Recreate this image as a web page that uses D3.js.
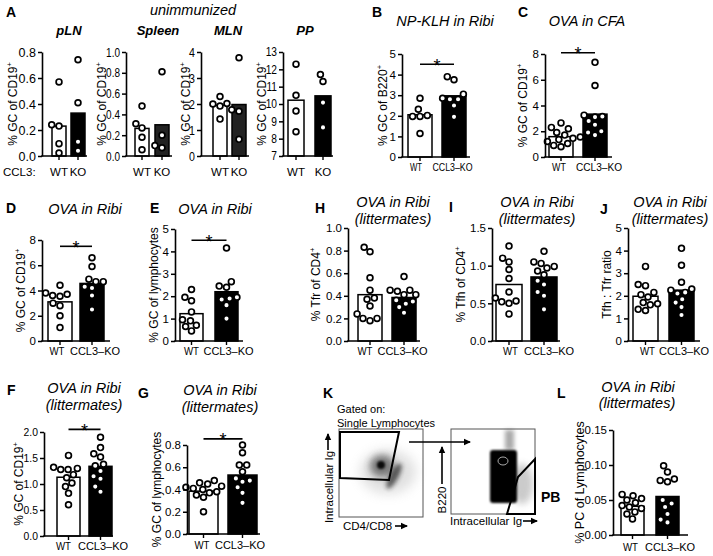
<!DOCTYPE html>
<html><head><meta charset="utf-8">
<script src="https://cdn.jsdelivr.net/npm/d3@7"></script>
<style>
body{margin:0;background:#fff}
svg{display:block}
text{font-family:"Liberation Sans",Arial,Helvetica,sans-serif;fill:#000}
</style></head>
<body><svg id="c" width="713" height="556"></svg>
<script>
// ---------------- DATA ----------------
const groupsA = ["WT", "KO"];
const groups = ["WT", "CCL3–KO"];

const pLN_WT = [0.57, 0.24, 0.23, 0.095, 0.023];
const pLN_KO = [0.74, 0.41, 0.11, 0.04];
const pLN_bar = [0.23, 0.33];
const spleen_WT = [0.48, 0.31, 0.27, 0.18, 0.06];
const spleen_KO = [0.81, 0.20, 0.10, 0.08];
const spleen_bar = [0.265, 0.30];
const MLN_WT = [2.29, 2.02, 2.0, 1.92, 1.42];
const MLN_KO = [3.78, 1.78, 1.72, 0.64];
const MLN_bar = [1.95, 1.98];
const PP_WT = [12.3, 10.5, 9.6, 8.4];
const PP_KO = [11.7, 11.3, 10.08, 8.65];
const PP_bar = [10.22, 10.47];

const B_WT = [2.85, 2.32, 2.02, 1.97, 1.97, 1.14];
const B_KO = [3.9, 3.75, 3.05, 2.85, 2.8, 2.8, 2.5, 1.95];
const B_bar = [2.05, 2.97];
const C_WT = [2.65, 2.3, 2.2, 1.9, 1.7, 1.55, 1.45, 1.35, 1.2, 1.05, 0.9, 0.8];
const C_KO = [7.35, 5.55, 3.25, 3.15, 3.1, 2.8, 2.5, 2.0, 1.9, 1.7];
const C_bar = [1.58, 3.33];
const D_WT = [4.42, 3.8, 3.7, 3.6, 3.55, 3.0, 2.8, 2.0, 1.06];
const D_KO = [6.6, 5.9, 4.9, 4.7, 4.7, 4.3, 4.2, 3.6, 2.5];
const D_bar = [3.1, 4.56];
const E_WT = [2.3, 1.95, 1.8, 1.3, 0.95, 0.9, 0.7, 0.65, 0.45];
const E_KO = [4.15, 2.65, 2.45, 2.4, 1.95, 1.9, 1.85, 1.6, 1.0];
const E_bar = [1.22, 2.2];
const H_WT = [0.83, 0.79, 0.56, 0.45, 0.38, 0.37, 0.31, 0.24, 0.2, 0.2, 0.18];
const H_KO = [0.57, 0.45, 0.45, 0.44, 0.41, 0.41, 0.36, 0.35, 0.33, 0.3, 0.25];
const H_bar = [0.41, 0.385];
const I_WT = [1.26, 1.1, 1.05, 0.95, 0.83, 0.65, 0.57, 0.53, 0.52, 0.5, 0.36];
const I_KO = [1.19, 1.05, 1.03, 0.99, 0.97, 0.93, 0.88, 0.8, 0.75, 0.65, 0.6, 0.42];
const I_bar = [0.75, 0.85];
const J_WT = [3.3, 2.5, 2.45, 2.15, 2.05, 1.95, 1.7, 1.65, 1.6, 1.4, 1.35];
const J_KO = [4.1, 3.35, 2.6, 2.3, 2.25, 2.15, 2.1, 1.85, 1.7, 1.5, 1.15];
const J_bar = [1.98, 2.25];
const F_WT = [1.55, 1.32, 1.3, 1.28, 1.28, 1.18, 1.12, 1.02, 0.95, 0.82, 0.6];
const F_KO = [1.9, 1.7, 1.58, 1.52, 1.38, 1.35, 1.25, 1.15, 1.1, 0.95, 0.85];
const F_bar = [1.13, 1.34];
const G_WT = [0.48, 0.46, 0.45, 0.43, 0.42, 0.41, 0.4, 0.38, 0.37, 0.35, 0.33, 0.2];
const G_KO = [0.8, 0.73, 0.62, 0.62, 0.56, 0.5, 0.48, 0.47, 0.42, 0.37, 0.28];
const G_bar = [0.385, 0.53];
const L_WT = [0.058, 0.056, 0.052, 0.05, 0.046, 0.042, 0.04, 0.038, 0.033, 0.03, 0.023];
const L_KO = [0.099, 0.09, 0.08, 0.078, 0.076, 0.05, 0.045, 0.04, 0.03, 0.022, 0.018];
const L_bar = [0.041, 0.055];

const ticks02 = [0, 0.2, 0.4, 0.6, 0.8];
const ticks10 = [0, 0.2, 0.4, 0.6, 0.8, 1.0];
const ticks4 = [0, 1, 2, 3, 4];
const ticks5 = [0, 1, 2, 3, 4, 5];
const ticksPP = [7, 8, 9, 10, 11, 12, 13];
const ticks8 = [0, 2, 4, 6, 8];
const ticks15 = [0, 0.5, 1.0, 1.5];
const ticks20 = [0, 0.5, 1.0, 1.5, 2.0];
const ticksL = [0, 0.05, 0.10, 0.15];

const labCD19 = ["% GC of CD19", "+"];

// ---------------- LAYOUT ----------------
const panels = [
  {wt:pLN_WT, ko:pLN_KO, bar:pLN_bar, cats:groupsA, dom:[0,0.8], ticks:ticks02, fmt:".1f", ax:42, end:87, l:52, r:85, bw:14, top:52, bot:156, lab:labCD19, labx:13, tfs:12.5, tsq:1, lfs:12, xfs:11.5, xly:176, xo:[0,0]},
  {wt:spleen_WT, ko:spleen_KO, bar:spleen_bar, cats:groupsA, dom:[0,1], ticks:ticks10, fmt:".1f", ax:126, end:172, l:135, r:169, bw:14, top:52, bot:156, lab:labCD19, labx:102, tfs:12.5, tsq:0.8, lfs:12, xfs:11.5, xly:176, xo:[0,0], ko_fill:"#222"},
  {wt:MLN_WT, ko:MLN_KO, bar:MLN_bar, cats:groupsA, dom:[0,4], ticks:ticks4, fmt:"d", ax:201, end:249, l:213, r:246, bw:14, top:52, bot:156, lab:labCD19, labx:186, tfs:12.5, tsq:0.85, lfs:12, xfs:11.5, xly:176, xo:[0,0], ko_fill:"#222"},
  {wt:PP_WT, ko:PP_KO, bar:PP_bar, cats:groupsA, dom:[7,13], ticks:ticksPP, fmt:"d", ax:283, end:333, l:288, r:331, bw:16, top:52, bot:156, lab:labCD19, labx:262, tfs:12, tsq:0.85, lfs:12, xfs:11.5, xly:176, xo:[0,0]},
  {wt:B_WT, ko:B_KO, bar:B_bar, cats:groups, dom:[0,5], ticks:ticks5, fmt:"d", ax:402, end:470, l:408, r:466, bw:24, top:54, bot:157, lab:["% GC of B220","+"], labx:383, tfs:11.5, tsq:1, lfs:12, xfs:11, xly:171, xsq:0.8, xo:[-4,-1.5], sig:4.5},
  {wt:C_WT, ko:C_KO, bar:C_bar, cats:groups, dom:[0,8], ticks:ticks8, fmt:"d", ax:545, end:612, l:549, r:607, bw:24, top:54, bot:157, lab:labCD19, labx:523, tfs:11.5, tsq:1, lfs:12, xfs:11, xly:171, xsq:0.92, xo:[-2,4], sig:8.1},
  {wt:D_WT, ko:D_KO, bar:D_bar, cats:groups, dom:[0,8], ticks:ticks8, fmt:"d", ax:42, end:110, l:48, r:104, bw:24, top:240, bot:341, lab:labCD19, labx:21, tfs:11.5, tsq:1, lfs:12, xfs:11, xly:355, xo:[-3,3], sig:7.5},
  {wt:E_WT, ko:E_KO, bar:E_bar, cats:groups, dom:[0,5], ticks:ticks5, fmt:"d", ax:175, end:243, l:180, r:238, bw:23, top:229, bot:341, lab:["% GC of lymphocytes",""], labx:154, tfs:11.5, tsq:1, lfs:12, xfs:11, xly:355, xo:[0,2], sig:4.5},
  {wt:H_WT, ko:H_KO, bar:H_bar, cats:groups, dom:[0,1], ticks:ticks10, fmt:".1f", ax:348, end:420, l:358, r:416, bw:24, top:228, bot:341, lab:["% Tfr of CD4","+"], labx:316, tfs:11.5, tsq:1, lfs:12, xfs:11, xly:355, xo:[-5,-1.5]},
  {wt:I_WT, ko:I_KO, bar:I_bar, cats:groups, dom:[0,1.5], ticks:ticks15, fmt:".1f", ax:492, end:560, l:496, r:557, bw:26, top:228, bot:341, lab:["% Tfh of CD4","+"], labx:461, tfs:11.5, tsq:1, lfs:12, xfs:11, xly:355, xo:[1.5,5]},
  {wt:J_WT, ko:J_KO, bar:J_bar, cats:groups, dom:[0,5], ticks:ticks5, fmt:"d", ax:628, end:700, l:633, r:694, bw:25, top:228, bot:341, lab:["Tfh : Tfr ratio",""], labx:607, tfs:11.5, tsq:1, lfs:12, xfs:11, xly:355, xo:[2,2.5]},
  {wt:F_WT, ko:F_KO, bar:F_bar, cats:groups, dom:[0,2], ticks:ticks20, fmt:".1f", ax:44, end:113, l:57, r:112, bw:23, top:432, bot:536, lab:labCD19, labx:19, tfs:11.5, tsq:0.9, lfs:12, xfs:11, xly:550, xo:[-5,2.5], sig:2.05},
  {wt:G_WT, ko:G_KO, bar:G_bar, cats:groups, dom:[0,0.8], ticks:ticks02, fmt:".1f", ax:187, end:260, l:189, r:257, bw:29, top:445, bot:534, lab:["% GC of lymphocytes",""], labx:157, tfs:11.5, tsq:1, lfs:12, xfs:11, xly:549, xo:[-1.5,-2.5], sig:0.855},
  {wt:L_WT, ko:L_KO, bar:L_bar, cats:groups, dom:[0,0.15], ticks:ticksL, fmt:".2f", ax:613, end:688, l:621, r:679, bw:23, top:430, bot:535, lab:["% PC of Lymphocytes",""], labx:580, tfs:11.5, tsq:1, lfs:12.5, xfs:11, xly:551, xo:[-2,2.5]}
];

const texts = [
  {t:"A", x:6, y:17, fs:14, w:"bold"},
  {t:"unimmunized", x:193, y:15, fs:14.5, st:"italic", a:"middle"},
  {t:"pLN", x:69, y:35, fs:13, w:"bold", st:"italic", a:"middle"},
  {t:"Spleen", x:158, y:35, fs:13, w:"bold", st:"italic", a:"middle"},
  {t:"MLN", x:228, y:35, fs:13, w:"bold", st:"italic", a:"middle"},
  {t:"PP", x:305, y:35, fs:13, w:"bold", st:"italic", a:"middle"},
  {t:"CCL3:", x:3, y:176, fs:11.5},
  {t:"B", x:372, y:17, fs:14, w:"bold"},
  {t:"NP-KLH in Ribi", x:445, y:26, fs:14.5, st:"italic", a:"middle"},
  {t:"C", x:518, y:17, fs:14, w:"bold"},
  {t:"OVA in CFA", x:587, y:26, fs:14.5, st:"italic", a:"middle"},
  {t:"D", x:6, y:213, fs:14, w:"bold"},
  {t:"OVA in Ribi", x:85, y:214, fs:14.5, st:"italic", a:"middle"},
  {t:"E", x:150, y:213, fs:14, w:"bold"},
  {t:"OVA in Ribi", x:215, y:214, fs:14.5, st:"italic", a:"middle"},
  {t:"H", x:315, y:213, fs:14, w:"bold"},
  {t:"OVA in Ribi", x:393, y:207, fs:14.5, st:"italic", a:"middle"},
  {t:"(littermates)", x:393, y:224, fs:14.5, st:"italic", a:"middle"},
  {t:"I", x:449, y:212, fs:14, w:"bold"},
  {t:"OVA in Ribi", x:537, y:207, fs:14.5, st:"italic", a:"middle"},
  {t:"(littermates)", x:537, y:224, fs:14.5, st:"italic", a:"middle"},
  {t:"J", x:600, y:214, fs:14, w:"bold"},
  {t:"OVA in Ribi", x:670, y:207, fs:14.5, st:"italic", a:"middle"},
  {t:"(littermates)", x:670, y:224, fs:14.5, st:"italic", a:"middle"},
  {t:"F", x:7, y:395, fs:14, w:"bold"},
  {t:"OVA in Ribi", x:84, y:393, fs:14.5, st:"italic", a:"middle"},
  {t:"(littermates)", x:84, y:410, fs:14.5, st:"italic", a:"middle"},
  {t:"G", x:138, y:398, fs:14, w:"bold"},
  {t:"OVA in Ribi", x:220, y:395, fs:14.5, st:"italic", a:"middle"},
  {t:"(littermates)", x:220, y:412, fs:14.5, st:"italic", a:"middle"},
  {t:"K", x:323, y:398, fs:14, w:"bold"},
  {t:"L", x:557, y:398, fs:14, w:"bold"},
  {t:"OVA in Ribi", x:638, y:392, fs:14.5, st:"italic", a:"middle"},
  {t:"(littermates)", x:637, y:408, fs:14.5, st:"italic", a:"middle"},
  {t:"Gated on:", x:337, y:413, fs:11},
  {t:"Single Lymphocytes", x:337, y:427, fs:11},
  {t:"CD4/CD8", x:343, y:530, fs:11.5},
  {t:"Intracellular Ig", x:450, y:525, fs:11.5},
  {t:"PB", x:541, y:502, fs:14, w:"bold"}
];

// ---------------- DRAW ----------------
const svg = d3.select("#c");
const FONT = '"Liberation Sans", Arial, Helvetica, sans-serif';

function swarm(ys, D) {
  const idx = ys.map((v, i) => i).sort((a, b) => ys[b] - ys[a]);
  const xs = new Array(ys.length).fill(0);
  const placed = [];
  for (const i of idx) {
    const iv = [];
    for (const j of placed) {
      const dy = Math.abs(ys[j] - ys[i]);
      if (dy < D) { const w = Math.sqrt(D * D - dy * dy); iv.push([xs[j] - w, xs[j] + w]); }
    }
    const cands = [0];
    iv.forEach(([a, b]) => cands.push(a, b));
    cands.sort((a, b) => Math.abs(a) - Math.abs(b));
    let c0 = 0;
    for (const c of cands) {
      if (iv.every(([a, b]) => c <= a + 1e-6 || c >= b - 1e-6)) { c0 = c; break; }
    }
    xs[i] = c0; placed.push(i);
  }
  return xs;
}

function drawPanel(p) {
  const g = svg.append("g");
  const y = d3.scaleLinear().domain(p.dom).range([p.bot, p.top]);
  const W = p.r - p.l;
  const x = d3.scaleBand().domain(p.cats).range([p.l, p.r])
    .paddingInner((W - 2 * p.bw) / (W - p.bw)).paddingOuter(0);
  const bw = x.bandwidth();

  g.selectAll("rect.bar").data(p.cats).join("rect").attr("class", "bar")
    .attr("x", d => x(d)).attr("width", bw)
    .attr("y", (d, i) => y(p.bar[i])).attr("height", (d, i) => p.bot - y(p.bar[i]))
    .attr("fill", (d, i) => i === 0 ? "#fff" : (p.ko_fill || "#000"))
    .attr("stroke", "#000").attr("stroke-width", 1.5);

  [p.wt, p.ko].forEach((vals, i) => {
    const cx = x(p.cats[i]) + bw / 2;
    const ys = vals.map(v => y(v));
    const off = swarm(ys, 7.4);
    g.append("g").selectAll("circle").data(vals).join("circle")
      .attr("cx", (d, j) => cx + off[j]).attr("cy", d => y(d)).attr("r", 2.9)
      .attr("fill", "#fff").attr("stroke", "#000").attr("stroke-width", 1.7);
  });

  const ya = d3.axisLeft(y).tickValues(p.ticks).tickFormat(d3.format(p.fmt))
    .tickSize(4).tickSizeOuter(0).tickPadding(2);
  const yg = g.append("g").attr("transform", `translate(${p.ax},0)`).call(ya)
    .attr("font-family", FONT).attr("font-size", p.tfs);
  yg.select(".domain").attr("stroke-width", 1.6);
  yg.selectAll(".tick line").attr("stroke-width", 1.5);
  yg.selectAll(".tick text").attr("fill", "#000")
    .attr("x", -6 / p.tsq).attr("transform", `scale(${p.tsq},1)`);

  g.append("line").attr("x1", p.ax - 0.8).attr("x2", p.end).attr("y1", p.bot).attr("y2", p.bot)
    .attr("stroke", "#000").attr("stroke-width", 1.6);
  g.selectAll("line.xt").data(p.cats).join("line").attr("class", "xt")
    .attr("x1", d => x(d) + bw / 2).attr("x2", d => x(d) + bw / 2)
    .attr("y1", p.bot).attr("y2", p.bot + 4).attr("stroke", "#000").attr("stroke-width", 1.4);
  const sq = p.xsq || 1;
  g.selectAll("text.xl").data(p.cats).join("text").attr("class", "xl")
    .attr("transform", (d, i) => `translate(${x(d) + bw / 2 + p.xo[i]},${p.xly}) scale(${sq * (i === 0 && p.cats[1] !== "KO" ? 0.88 : 1)},1)`)
    .attr("text-anchor", "middle").attr("font-size", p.xfs).text(d => d);

  const lt = g.append("text")
    .attr("transform", `translate(${p.labx},${(p.top + p.bot) / 2}) rotate(-90)`)
    .attr("text-anchor", "middle").attr("dy", "0.35em").attr("font-size", p.lfs);
  lt.append("tspan").text(p.lab[0]);
  if (p.lab[1]) lt.append("tspan").attr("font-size", p.lfs * 0.62).attr("dy", -p.lfs * 0.42).text(p.lab[1]);

  if (p.sig != null) {
    const ys = y(p.sig);
    const x1 = x(p.cats[0]) + bw / 2, x2 = x(p.cats[1]) + bw / 2;
    g.append("line").attr("x1", x1).attr("x2", x2).attr("y1", ys).attr("y2", ys)
      .attr("stroke", "#000").attr("stroke-width", 1.6);
    g.append("text").attr("x", (x1 + x2) / 2).attr("y", ys + 7.5).attr("text-anchor", "middle")
      .attr("font-size", 18).text("*");
  }
}

panels.forEach(drawPanel);

svg.append("g").selectAll("text").data(texts).join("text")
  .attr("x", d => d.x).attr("y", d => d.y).attr("font-size", d => d.fs)
  .attr("font-weight", d => d.w || "normal").attr("font-style", d => d.st || "normal")
  .attr("text-anchor", d => d.a || "start").text(d => d.t);

// ---------------- PANEL K (flow plots) ----------------
const defs = svg.append("defs");
[["bl1", 1.0], ["bl2", 2.0], ["bl3", 3.5], ["bl4", 6]].forEach(([id, s]) => {
  defs.append("filter").attr("id", id).attr("x", "-60%").attr("y", "-60%").attr("width", "220%").attr("height", "220%")
    .append("feGaussianBlur").attr("stdDeviation", s);
});
const k = svg.append("g");
function arrow(x1, y1, x2, y2) {
  k.append("line").attr("x1", x1).attr("y1", y1).attr("x2", x2).attr("y2", y2)
    .attr("stroke", "#000").attr("stroke-width", 1.6);
  const a = Math.atan2(y2 - y1, x2 - x1), L = 6, Wd = 3.2;
  const p1 = [x2 + Math.cos(a) * 1, y2 + Math.sin(a) * 1];
  const bx = x2 - Math.cos(a) * L, by = y2 - Math.sin(a) * L;
  const p2 = [bx - Math.sin(a) * Wd, by + Math.cos(a) * Wd];
  const p3 = [bx + Math.sin(a) * Wd, by - Math.cos(a) * Wd];
  k.append("path").attr("d", `M${p1}L${p2}L${p3}Z`).attr("fill", "#000");
}
// left plot
k.append("rect").attr("x", 339).attr("y", 429).attr("width", 84).attr("height", 88)
  .attr("fill", "#fff").attr("stroke", "#555").attr("stroke-width", 1);
k.append("ellipse").attr("cx", 388).attr("cy", 472).attr("rx", 28).attr("ry", 22)
  .attr("fill", "#999").attr("opacity", 0.3).attr("filter", "url(#bl4)");
k.append("ellipse").attr("cx", 382).attr("cy", 466).attr("rx", 12).attr("ry", 11)
  .attr("fill", "#333").attr("opacity", 0.6).attr("filter", "url(#bl3)");
k.append("ellipse").attr("cx", 381).attr("cy", 465).attr("rx", 4).attr("ry", 4)
  .attr("fill", "#000").attr("opacity", 0.9).attr("filter", "url(#bl1)");
k.append("ellipse").attr("transform", "translate(394,476) rotate(28)").attr("rx", 4.5).attr("ry", 14)
  .attr("fill", "#222").attr("opacity", 0.7).attr("filter", "url(#bl2)");
k.append("path").attr("d", "M340,432L399,432L389,480L340,478Z").attr("fill", "none")
  .attr("stroke", "#000").attr("stroke-width", 2);
// right plot
k.append("rect").attr("x", 451).attr("y", 429).attr("width", 84).attr("height", 85)
  .attr("fill", "#fff").attr("stroke", "#555").attr("stroke-width", 1);
k.append("rect").attr("x", 505).attr("y", 430).attr("width", 9).attr("height", 20)
  .attr("fill", "#444").attr("opacity", 0.45).attr("filter", "url(#bl2)");
k.append("ellipse").attr("cx", 522).attr("cy", 484).attr("rx", 11).attr("ry", 20)
  .attr("fill", "#555").attr("opacity", 0.3).attr("filter", "url(#bl3)");
k.append("rect").attr("x", 490).attr("y", 450).attr("width", 27).attr("height", 53).attr("rx", 3)
  .attr("fill", "#000").attr("filter", "url(#bl1)");
k.append("ellipse").attr("cx", 503).attr("cy", 461).attr("rx", 5).attr("ry", 4)
  .attr("fill", "none").attr("stroke", "#aaa").attr("stroke-width", 1);
k.append("path").attr("d", "M507,514L518,477L535,459L535,514Z").attr("fill", "none")
  .attr("stroke", "#000").attr("stroke-width", 2);
// axis captions
k.append("text").attr("transform", "translate(333,487) rotate(-90)").attr("text-anchor", "middle")
  .attr("font-size", 11.5).text("Intracellular Ig");
arrow(328, 450, 328, 434);
k.append("text").attr("transform", "translate(446,500) rotate(-90)").attr("text-anchor", "middle")
  .attr("font-size", 11.5).text("B220");
arrow(442, 484, 442, 447);
arrow(395, 526, 407, 526);
arrow(523, 521, 537, 521);
arrow(409, 442, 470, 442);
</script></body></html>
